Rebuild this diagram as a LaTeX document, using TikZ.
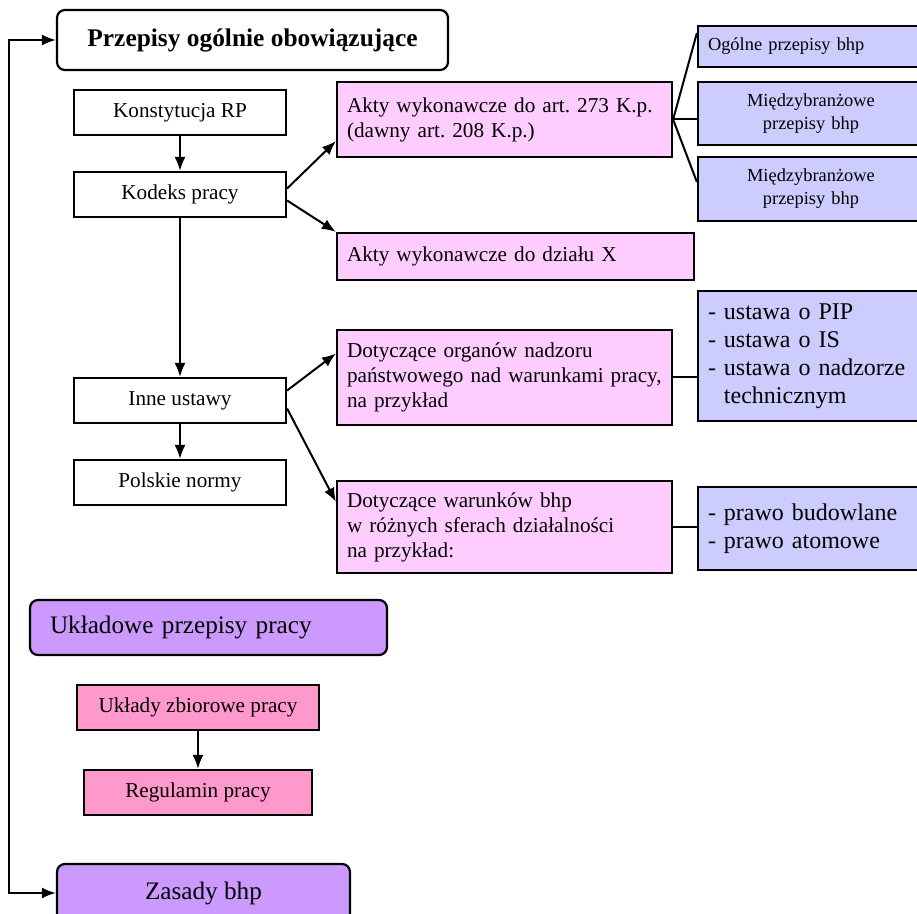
\documentclass[tikz,border=0pt]{standalone}
\usepackage{fontspec}
\setmainfont{Liberation Serif}
\usepackage{tikz}
\usetikzlibrary{arrows.meta}
\frenchspacing

\definecolor{rozowy}{RGB}{255,204,255}
\definecolor{niebieski}{RGB}{204,204,255}
\definecolor{fiolet}{RGB}{204,153,255}
\definecolor{malina}{RGB}{255,153,204}

\begin{document}
\begin{tikzpicture}[x=0.5pt, y=-0.5pt,
        >={Latex[length=7pt,width=5.5pt]}, line width=1pt,
        box/.style={draw, line width=1.1pt, inner sep=0pt, font=\fontsize{10.6}{12.5}\selectfont},
        bialy/.style={box, fill=white, minimum width=106pt, minimum height=22.5pt},
        akt/.style={box, fill=rozowy, align=left, inner xsep=5pt, text width=#1},
        lista/.style={box, fill=niebieski, align=left, inner xsep=5pt, text width=103pt},
        duzy/.style={box, fill=fiolet, rounded corners=4pt, font=\fontsize{12.6}{15}\selectfont}]
    \useasboundingbox (0,0) rectangle (917,914);

    % przepisy ogolne
    \node[bialy, rounded corners=4pt, minimum width=195.5pt, minimum height=30pt,
          font=\fontsize{12.7}{15}\bfseries] (przepisy) at (252.5,40) {Przepisy ogólnie obowiązujące};
    \node[bialy] (konstytucja) at (180,112.5) {Konstytucja RP};
    \node[bialy] (kodeks) at (180,194.5) {Kodeks pracy};
    \node[bialy] (inne) at (180,400.5) {Inne ustawy};
    \node[bialy] (normy) at (180,482.5) {Polskie normy};

    \node[akt=157.5pt, minimum height=37.5pt] (akty273) at (504.5,119.5)
        {Akty wykonawcze do art. 273 K.p.\\(dawny art. 208 K.p.)};
    \node[akt=168.5pt, minimum height=23.5pt] (aktyX) at (515.5,256.5) {Akty wykonawcze do działu X};
    \node[akt=157.5pt, minimum height=47.5pt] (nadzor) at (504.5,377.5)
        {Dotyczące organów nadzoru\\państwowego nad warunkami pracy,\\na przykład};
    \node[akt=157.5pt, minimum height=46pt] (warunki) at (504.5,527)
        {Dotyczące warunków bhp\\w różnych sferach działalności\\na przykład:};

    % przepisy bhp
    \node[lista, minimum height=20.5pt, font=\fontsize{9.2}{11.5}\selectfont] (ogolnebhp) at (811,46.5) {Ogólne przepisy bhp};
    \node[lista, align=center, minimum height=31.5pt, font=\fontsize{9.2}{11.5}\selectfont] (miedzy1) at (811,113.5)
        {Międzybranżowe\\przepisy bhp};
    \node[lista, align=center, minimum height=32pt, font=\fontsize{9.2}{11.5}\selectfont] (miedzy2) at (811,189)
        {Międzybranżowe\\przepisy bhp};
    \node[lista, minimum height=65pt, font=\fontsize{12}{14}\selectfont] (ustawy) at (811,356)
        {- ustawa o PIP\\- ustawa o IS\\- ustawa o nadzorze\\\phantom{- }technicznym};
    \node[lista, minimum height=41.5pt, font=\fontsize{12}{14}\selectfont] (prawa) at (811,528.5)
        {- prawo budowlane\\- prawo atomowe};

    % przepisy ukladowe
    \node[duzy, align=left, inner xsep=10pt, text width=158.5pt, minimum height=27.5pt] (ukladowe) at (208.5,627.5)
        {Układowe przepisy pracy};
    \node[box, fill=malina, minimum width=121pt, minimum height=22.5pt] (uklady) at (198,707.5) {Układy zbiorowe pracy};
    \node[box, fill=malina, minimum width=114pt, minimum height=22.5pt] (regulamin) at (198,792.5) {Regulamin pracy};
    \node[duzy, minimum width=146.5pt, minimum height=29pt] (zasady) at (203.5,893) {Zasady bhp};

    % strzalki
    \coordinate (lewy) at (9,40);
    \draw[<->] (przepisy.west) -- (lewy) -- (lewy |- zasady.west) -- (zasady.west);
    \draw[->] (konstytucja) -- (kodeks);
    \draw[->] (kodeks) -- (inne);
    \draw[->] (inne) -- (normy);
    \draw[->] (uklady) -- (regulamin);
    \draw[->] ([yshift=3pt]kodeks.east) -- ([yshift=8.5pt]akty273.south west);
    \draw[->] ([yshift=-3pt]kodeks.east) -- (aktyX.north west);
    \draw[->] ([yshift=5pt]inne.east) -- ([yshift=12pt]nadzor.west);
    \draw[->] ([yshift=-4pt]inne.east) -- ([yshift=-11pt]warunki.north west);
    \draw (akty273.east) -- ([yshift=6.75pt]ogolnebhp.west);
    \draw (akty273.east) -- (akty273.east -| miedzy1.west);
    \draw (akty273.east) -- ([yshift=3.5pt]miedzy2.west);
    \draw (nadzor.east) -- (nadzor.east -| ustawy.west);
    \draw (warunki.east) -- (warunki.east -| prawa.west);
\end{tikzpicture}
\end{document}
